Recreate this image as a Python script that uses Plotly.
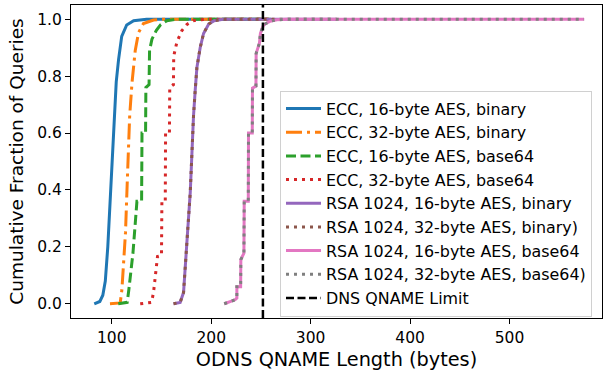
import plotly.graph_objects as go

# ECDF knots (QNAME length in bytes, cumulative fraction) for each encoding scheme
ecc16_bin_x = [82.4, 88, 91, 93.5, 96, 98.5, 100.5, 102.5, 104.5, 106.8, 110, 115, 122, 135, 258]
ecc16_bin_y = [0, 0.008, 0.03, 0.08, 0.2, 0.37, 0.55, 0.68, 0.78, 0.857, 0.94, 0.98, 0.995, 1.0, 1.0]

ecc32_bin_x = [98.2, 108.5, 110.2, 112.5, 113.8, 115.5, 116.8, 118, 120.3, 123.6, 126.9, 131.9, 142, 150, 258]
ecc32_bin_y = [0, 0.003, 0.05, 0.17, 0.25, 0.42, 0.55, 0.66, 0.775, 0.89, 0.953, 0.985, 0.997, 1.0, 1.0]

ecc16_b64_x = [106.5, 115.5, 117.2, 121.3, 124, 125.3, 130, 130.4, 134, 134.3, 137.5, 138, 140.4, 144.7, 149, 155.5, 165, 260]
ecc16_b64_y = [0, 0.005, 0.05, 0.178, 0.30, 0.36, 0.36, 0.6, 0.6, 0.76, 0.77, 0.89, 0.93, 0.96, 0.98, 0.995, 1.0, 1.0]

ecc32_b64_x = [128.6, 140, 142, 144.7, 146, 150, 150.4, 153.8, 154.1, 158, 158.3, 162, 162.3, 165.5, 170.5, 175.6, 182, 195, 262]
ecc32_b64_y = [0, 0.005, 0.04, 0.13, 0.166, 0.17, 0.36, 0.36, 0.6, 0.6, 0.76, 0.77, 0.87, 0.92, 0.96, 0.982, 0.995, 1.0, 1.0]

rsa16_bin_x = [162.1, 168.8, 172.2, 174.9, 176.2, 178.9, 180.6, 182.2, 183.9, 185.6, 188.9, 192.3, 197.5, 203, 212, 326]
rsa16_bin_y = [0, 0.005, 0.04, 0.16, 0.25, 0.39, 0.54, 0.66, 0.75, 0.83, 0.9, 0.95, 0.983, 0.995, 1.0, 1.0]
rsa32_bin_x = list(rsa16_bin_x)
rsa32_bin_y = list(rsa16_bin_y)

rsa16_b64_x = [213.1, 224, 225.8, 225.8, 229.6, 229.8, 232.9, 233.2, 237.3, 237.5, 241.3, 241.5, 245, 245.2,
               248.5, 249.5, 252.6, 259.3, 266, 276, 575]
rsa16_b64_y = [0, 0.014, 0.02, 0.06, 0.06, 0.155, 0.178, 0.36, 0.36, 0.6, 0.6, 0.758, 0.765, 0.88,
               0.916, 0.95, 0.98, 0.993, 0.998, 1.0, 1.0]
rsa32_b64_x = list(rsa16_b64_x)
rsa32_b64_y = list(rsa16_b64_y)

dns_qname_limit = 252

labels = [
    "ECC, 16-byte AES, binary",
    "ECC, 32-byte AES, binary",
    "ECC, 16-byte AES, base64",
    "ECC, 32-byte AES, base64",
    "RSA 1024, 16-byte AES, binary",
    "RSA 1024, 32-byte AES, binary)",
    "RSA 1024, 16-byte AES, base64",
    "RSA 1024, 32-byte AES, base64)",
]

x_ticks = [100, 200, 300, 400, 500]
y_ticks = [0.0, 0.2, 0.4, 0.6, 0.8, 1.0]

series = [
    (ecc16_bin_x, ecc16_bin_y, "#1f77b4", "solid"),
    (ecc32_bin_x, ecc32_bin_y, "#ff7f0e", "16px,5px,3px,5px"),
    (ecc16_b64_x, ecc16_b64_y, "#2ca02c", "10px,4.5px"),
    (ecc32_b64_x, ecc32_b64_y, "#d62728", "3px,5px"),
    (rsa16_bin_x, rsa16_bin_y, "#9467bd", "solid"),
    (rsa32_bin_x, rsa32_bin_y, "#8c564b", "3px,5px"),
    (rsa16_b64_x, rsa16_b64_y, "#e377c2", "solid"),
    (rsa32_b64_x, rsa32_b64_y, "#7f7f7f", "3px,5px"),
]

FONT = "DejaVu Sans"

fig = go.Figure()
for (xs, ys, color, dash), name in zip(series, labels):
    fig.add_trace(go.Scatter(
        x=xs, y=ys, mode="lines", name=name,
        line=dict(color=color, width=3, dash=dash),
    ))

fig.add_trace(go.Scatter(
    x=[dns_qname_limit, dns_qname_limit], y=[-0.05, 1.05], mode="lines",
    name="DNS QNAME Limit",
    line=dict(color="black", width=2.5, dash="8px,3.5px"),
))

fig.update_layout(
    width=603, height=375,
    margin=dict(l=71, r=1, t=5, b=57),
    paper_bgcolor="white", plot_bgcolor="white",
    font=dict(family=FONT, color="black"),
    showlegend=True,
    legend=dict(
        x=0.3936, y=0.726, xanchor="left", yanchor="top",
        bgcolor="white", bordercolor="#d0d0d0", borderwidth=1,
        font=dict(family=FONT, size=15.9, color="black"),
        tracegroupgap=0, itemwidth=35,
    ),
    xaxis=dict(
        range=[59, 593], tickvals=x_ticks, ticktext=[str(v) for v in x_ticks],
        showgrid=False, zeroline=False, automargin=False,
        showline=True, linecolor="black", linewidth=1, mirror=True,
        ticks="outside", ticklen=5, tickwidth=1, tickcolor="black",
        tickfont=dict(family=FONT, size=15.5),
        title=dict(text="ODNS QNAME Length (bytes)", font=dict(family=FONT, size=19.3), standoff=6),
    ),
    yaxis=dict(
        range=[-0.05, 1.05], tickvals=y_ticks, ticktext=[f"{v:.1f}" for v in y_ticks],
        showgrid=False, zeroline=False, automargin=False,
        showline=True, linecolor="black", linewidth=1, mirror=True,
        ticks="outside", ticklen=5, tickwidth=1, tickcolor="black",
        tickfont=dict(family=FONT, size=15.5),
        title=dict(text="Cumulative Fraction of Queries", font=dict(family=FONT, size=18.5), standoff=8),
    ),
)

fig.write_html("out.html")
